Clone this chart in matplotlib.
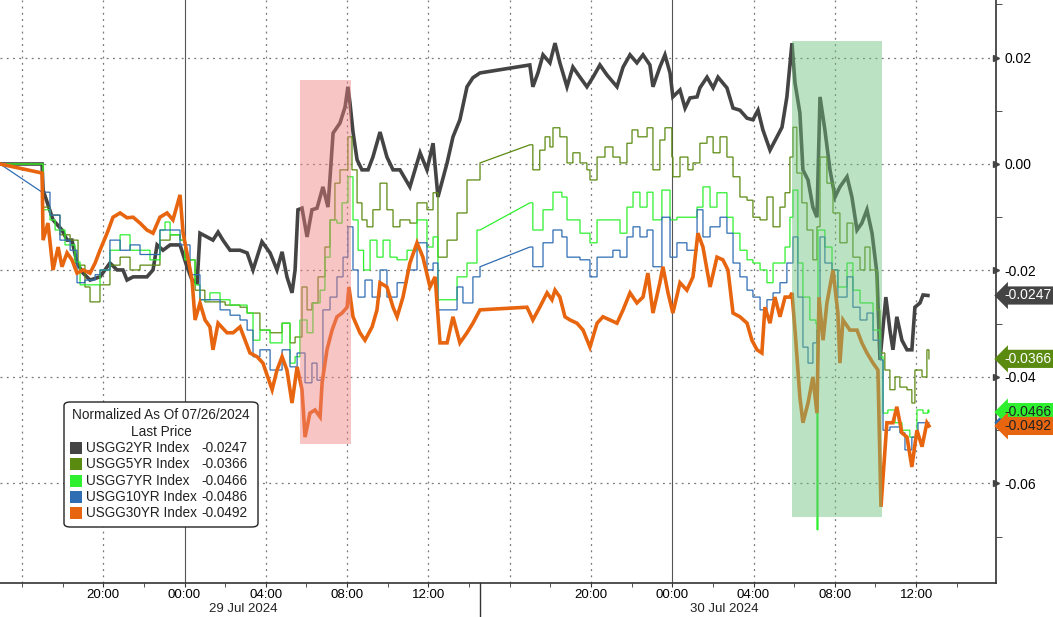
import matplotlib
matplotlib.use("Agg")
import matplotlib.pyplot as plt
import matplotlib.patches as mpatches
import matplotlib.transforms as mtransforms
from matplotlib.lines import Line2D

plt.rcParams['font.family'] = ['Liberation Sans', 'DejaVu Sans']

# time = hours since 29 Jul 2024 00:00, values = normalized change since 07/26/2024
t2 = [-9.08, -7.01, -6.96, -6.47, -6.03, -5.78, -5.54, -5.29, -4.99, -4.65, -4.16, -3.67, -3.32,
      -3.03, -2.83, -2.53, -1.85, -1.55, -1.35, -1.06, -0.71, -0.22, 0.12, 0.37, 0.62, 0.76, 1.11,
      1.40, 1.65, 1.89, 2.24, 2.73, 3.08, 3.37, 3.81, 4.21, 4.55, 4.80, 5.04, 5.29, 5.44, 5.58,
      5.78, 6.03, 6.27, 6.52, 6.81, 7.06, 7.31, 7.65, 7.90, 8.04, 8.14, 8.29, 8.49, 8.73, 9.03,
      9.27, 9.62, 9.96, 10.26, 10.60, 11.09, 11.59, 11.93, 12.23, 12.47, 12.92, 13.21, 13.55,
      13.90, 14.19, 14.54, 16.99, 17.14, 17.39, 17.64, 17.98, 18.23, 18.47, 18.82, 19.11, 19.46,
      19.80, 20.10, 20.44, 20.79, 21.28, 21.58, 21.92, 22.26, 22.56, 22.90, 23.05, 23.39, 23.64,
      23.89, 24.03, 24.38, 24.63, 24.87, 25.22, 25.36, 25.71, 26.01, 26.25, 26.69, 26.99, 27.33,
      27.68, 27.97, 28.22, 28.46, 28.81, 29.15, 29.40, 29.64, 29.89, 30.04, 30.28, 30.43, 30.68,
      30.92, 31.12, 31.27, 31.51, 31.76, 32.01, 32.25, 32.60, 32.84, 33.09, 33.33, 33.58, 33.83,
      34.07, 34.22, 34.51, 34.71, 34.86, 35.05, 35.30, 35.55, 35.79, 35.94, 36.19, 36.34, 36.58]
usgg2 = [0, 0, -0.0049, -0.0105, -0.0124, -0.0143, -0.0143, -0.0186, -0.0205, -0.0218, -0.0212,
         -0.0186, -0.0199, -0.0199, -0.0218, -0.0212, -0.0212, -0.0199, -0.0152, -0.0162, -0.0152,
         -0.0152, -0.0193, -0.0218, -0.0223, -0.0130, -0.0137, -0.0143, -0.0128, -0.0143, -0.0162,
         -0.0162, -0.0167, -0.0199, -0.0146, -0.0167, -0.0199, -0.0165, -0.0212, -0.0242, -0.0199,
         -0.0086, -0.0083, -0.0137, -0.0086, -0.0083, -0.0043, -0.0081, 0.0058, 0.0077, 0.0107,
         0.0145, 0.0115, 0.0060, 0.0008, -0.0011, -0.0011, 0.0013, 0.0060, 0.0013, -0.0011, -0.0011,
         -0.0043, 0.0021, -0.0011, 0.0039, -0.0062, 0.0002, 0.0051, 0.0083, 0.0145, 0.0162, 0.0171,
         0.0186, 0.0145, 0.0171, 0.0205, 0.0190, 0.0227, 0.0190, 0.0145, 0.0182, 0.0163, 0.0145,
         0.0163, 0.0186, 0.0167, 0.0145, 0.0182, 0.0205, 0.0190, 0.0205, 0.0186, 0.0145, 0.0182,
         0.0205, 0.0171, 0.0126, 0.0139, 0.0105, 0.0124, 0.0126, 0.0143, 0.0163, 0.0143, 0.0163,
         0.0143, 0.0105, 0.0101, 0.0086, 0.0083, 0.0101, 0.0064, 0.0026, 0.0051, 0.0069, 0.0126,
         0.0227, 0.0152, 0.0096, -0.0011, -0.0030, -0.0081, -0.0100, 0.0126, 0.0064, -0.0011,
         -0.0062, -0.0043, -0.0024, -0.0062, -0.0124, -0.0111, -0.0086, -0.0130, -0.0205, -0.0368,
         -0.0250, -0.0312, -0.0349, -0.0287, -0.0331, -0.0349, -0.0349, -0.0269, -0.0261, -0.0246,
         -0.0247]

t5 = [-9.08, -7.01, -6.96, -6.62, -6.13, -5.63, -5.24, -4.90, -4.65, -4.16, -3.67, -3.17, -2.68,
      -2.19, -1.70, -1.21, -0.71, -0.22, 0.02, 0.52, 1.00, 2.00, 2.73, 3.08, 3.71, 4.21, 4.80,
      5.19, 5.44, 5.78, 6.03, 6.27, 6.57, 6.91, 7.16, 7.40, 7.65, 8.04, 8.24, 8.49, 8.73, 8.98,
      9.27, 9.62, 9.96, 10.26, 10.60, 11.09, 11.44, 11.93, 12.23, 12.47, 12.92, 13.41, 13.90,
      14.54, 16.99, 17.14, 17.48, 17.74, 17.98, 18.13, 18.47, 18.82, 19.11, 19.46, 19.80, 19.95,
      20.30, 20.69, 21.08, 21.43, 21.77, 22.02, 22.31, 22.76, 23.05, 23.39, 23.64, 23.98, 24.03,
      24.38, 24.77, 25.02, 25.36, 25.71, 26.01, 26.35, 26.69, 26.99, 27.33, 27.68, 27.97, 28.32,
      28.66, 28.96, 29.30, 29.55, 29.79, 29.94, 30.13, 30.38, 30.63, 30.92, 31.12, 31.27, 31.61,
      31.91, 32.25, 32.60, 32.89, 33.24, 33.48, 33.73, 34.07, 34.22, 34.46, 34.71, 34.96, 35.20,
      35.55, 35.79, 35.94, 36.29, 36.53, 36.63]
usgg5 = [0, 0, -0.0081, -0.0096, -0.0133, -0.0143, -0.0190, -0.0231, -0.0259, -0.0227, -0.0190,
         -0.0175, -0.0199, -0.0190, -0.0190, -0.0143, -0.0133, -0.0143, -0.0180, -0.0237, -0.0259,
         -0.0265, -0.0269, -0.0280, -0.0312, -0.0317, -0.0299, -0.0336, -0.0325, -0.0231, -0.0274,
         -0.0261, -0.0212, -0.0156, -0.0105, -0.0036, -0.0011, 0.0051, -0.0011, -0.0073, -0.0105,
         -0.0118, -0.0086, -0.0036, -0.0086, -0.0118, -0.0105, -0.0111, -0.0073, -0.0086, -0.0054,
         -0.0175, -0.0143, -0.0092, -0.0030, 0.0002, 0.0036, -0.0011, 0.0026, 0.0051, 0.0032,
         0.0068, 0.0051, 0.0002, 0.0021, 0.0002, -0.0011, -0.0030, 0.0013, 0.0032, 0.0013, 0.0002,
         0.0039, 0.0064, 0.0051, 0.0068, -0.0011, 0.0045, 0.0068, 0.0013, -0.0024, 0.0013, -0.0011,
         0.0002, 0.0039, 0.0051, 0.0021, 0.0051, 0.0013, -0.0024, -0.0062, -0.0068, -0.0100,
         -0.0105, -0.0062, -0.0118, -0.0081, -0.0054, 0.0013, 0.0069, -0.0017, -0.0073, -0.0124,
         -0.0180, -0.0118, 0.0013, -0.0036, -0.0092, -0.0148, -0.0111, -0.0175, -0.0199, -0.0156,
         -0.0199, -0.0274, -0.0355, -0.0387, -0.0424, -0.0400, -0.0419, -0.0424, -0.0449, -0.0387,
         -0.0400, -0.0349, -0.0366]

t7 = [-9.08, -7.01, -6.96, -6.62, -6.37, -5.88, -5.39, -5.14, -4.65, -4.16, -3.67, -3.17, -2.68,
      -2.19, -1.70, -1.21, -0.96, -0.71, -0.22, 0.02, 0.52, 0.76, 1.25, 1.75, 2.24, 2.73, 3.08,
      3.37, 3.71, 4.21, 4.80, 5.19, 5.44, 5.68, 6.03, 6.32, 6.67, 6.91, 7.16, 7.50, 7.75, 8.04,
      8.29, 8.54, 8.81, 9.13, 9.47, 9.77, 10.11, 10.46, 10.95, 11.44, 11.93, 12.23, 12.47, 13.06,
      13.41, 13.90, 14.39, 14.54, 16.99, 17.14, 17.64, 18.13, 18.57, 18.82, 19.46, 19.95, 20.30,
      21.08, 21.43, 21.77, 22.07, 22.41, 22.76, 23.05, 23.49, 23.89, 24.23, 24.72, 25.22, 25.51,
      25.86, 26.20, 26.69, 26.99, 27.33, 27.68, 27.97, 28.32, 28.66, 28.96, 29.30, 29.55, 29.79,
      29.94, 30.18, 30.43, 30.77, 31.07, 31.12, 31.17, 31.51, 31.86, 32.15, 32.60, 32.89, 33.24,
      33.58, 33.88, 34.22, 34.37, 34.61, 34.96, 35.30, 35.69, 36.04, 36.34, 36.58, 36.63]
usgg7 = [0, 0, -0.0086, -0.0105, -0.0124, -0.0152, -0.0184, -0.0227, -0.0227, -0.0199, -0.0162,
         -0.0133, -0.0162, -0.0162, -0.0180, -0.0124, -0.0109, -0.0133, -0.0143, -0.0180, -0.0227,
         -0.0255, -0.0242, -0.0255, -0.0265, -0.0265, -0.0280, -0.0331, -0.0312, -0.0336, -0.0299,
         -0.0374, -0.0362, -0.0293, -0.0317, -0.0261, -0.0237, -0.0175, -0.0105, -0.0111, -0.0073,
         -0.0024, -0.0105, -0.0162, -0.0199, -0.0143, -0.0175, -0.0143, -0.0175, -0.0180, -0.0162,
         -0.0105, -0.0156, -0.0137, -0.0255, -0.0255, -0.0212, -0.0186, -0.0124, -0.0124, -0.0073,
         -0.0124, -0.0086, -0.0053, -0.0062, -0.0105, -0.0130, -0.0148, -0.0105, -0.0105, -0.0130,
         -0.0081, -0.0053, -0.0081, -0.0053, -0.0105, -0.0049, -0.0105, -0.0100, -0.0100, -0.0081,
         -0.0043, -0.0081, -0.0054, -0.0100, -0.0130, -0.0162, -0.0180, -0.0186, -0.0199, -0.0223,
         -0.0186, -0.0186, -0.0156, -0.0100, -0.0049, -0.0186, -0.0250, -0.0293, -0.0300, -0.0687,
         -0.0124, -0.0156, -0.0199, -0.0231, -0.0186, -0.0237, -0.0261, -0.0261, -0.0312, -0.0362,
         -0.0468, -0.0462, -0.0486, -0.0500, -0.0513, -0.0462, -0.0468, -0.0462, -0.0466]

t10 = [-9.08, -7.01, -6.62, -6.13, -5.63, -5.29, -4.90, -4.40, -4.16, -3.67, -3.17, -2.68, -2.19,
       -1.70, -1.21, -0.71, -0.22, 0.27, 0.76, 1.25, 1.75, 2.24, 2.73, 3.08, 3.37, 3.71, 4.21,
       4.80, 5.19, 5.54, 5.93, 6.27, 6.52, 6.81, 7.16, 7.50, 7.80, 8.04, 8.29, 8.54, 8.88, 9.23,
       9.62, 9.96, 10.46, 10.95, 11.44, 11.93, 12.23, 12.47, 12.92, 13.41, 13.70, 14.19, 14.54,
       16.99, 17.14, 17.64, 18.13, 18.57, 18.82, 19.46, 19.95, 20.30, 21.08, 21.43, 21.77, 22.07,
       22.41, 22.76, 23.05, 23.49, 23.89, 24.23, 24.72, 25.22, 25.51, 25.86, 26.35, 26.69, 26.99,
       27.33, 27.68, 27.97, 28.32, 28.66, 28.96, 29.30, 29.64, 29.94, 30.18, 30.43, 30.68, 30.92,
       31.12, 31.27, 31.51, 31.86, 32.15, 32.60, 32.89, 33.24, 33.58, 33.88, 34.22, 34.37, 34.71,
       35.20, 35.45, 35.79, 36.09, 36.34, 36.63]
usgg10 = [0, -0.0053, -0.0096, -0.0143, -0.0162, -0.0223, -0.0218, -0.0208, -0.0199, -0.0143,
          -0.0162, -0.0152, -0.0170, -0.0170, -0.0124, -0.0124, -0.0152, -0.0208, -0.0255, -0.0255,
          -0.0274, -0.0284, -0.0293, -0.0312, -0.0362, -0.0349, -0.0387, -0.0349, -0.0381, -0.0355,
          -0.0411, -0.0374, -0.0406, -0.0274, -0.0250, -0.0212, -0.0175, -0.0118, -0.0199, -0.0250,
          -0.0218, -0.0250, -0.0199, -0.0250, -0.0223, -0.0199, -0.0148, -0.0199, -0.0186, -0.0274,
          -0.0274, -0.0231, -0.0261, -0.0212, -0.0193, -0.0156, -0.0193, -0.0148, -0.0124, -0.0137,
          -0.0175, -0.0180, -0.0212, -0.0175, -0.0162, -0.0175, -0.0137, -0.0118, -0.0137, -0.0124,
          -0.0193, -0.0100, -0.0175, -0.0148, -0.0162, -0.0086, -0.0137, -0.0118, -0.0100, -0.0130,
          -0.0186, -0.0212, -0.0237, -0.0250, -0.0274, -0.0255, -0.0242, -0.0223, -0.0186, -0.0137,
          -0.0250, -0.0344, -0.0374, -0.0336, -0.0312, -0.0137, -0.0186, -0.0199, -0.0250, -0.0212,
          -0.0269, -0.0293, -0.0280, -0.0331, -0.0368, -0.0500, -0.0494, -0.0505, -0.0537, -0.0513,
          -0.0486, -0.0486, -0.0486]

t30 = [-9.08, -7.01, -6.96, -6.72, -6.47, -6.22, -6.03, -5.78, -5.54, -5.29, -4.99, -4.65, -4.40,
       -4.16, -3.81, -3.52, -3.17, -2.83, -2.53, -2.19, -1.85, -1.55, -1.21, -0.86, -0.57, -0.22,
       -0.07, 0.12, 0.37, 0.52, 0.76, 1.01, 1.25, 1.40, 1.65, 2.09, 2.39, 2.73, 3.22, 3.57, 3.86,
       4.31, 4.55, 4.80, 5.04, 5.29, 5.54, 5.78, 5.93, 6.17, 6.42, 6.67, 6.77, 7.01, 7.26, 7.50,
       7.75, 8.00, 8.09, 8.29, 8.63, 8.88, 9.23, 9.47, 9.62, 9.96, 10.26, 10.46, 10.75, 11.09,
       11.44, 11.73, 12.08, 12.33, 12.57, 12.92, 13.21, 13.55, 13.90, 14.19, 14.54, 16.85, 16.99,
       17.14, 17.48, 17.84, 18.08, 18.23, 18.47, 18.72, 18.97, 19.31, 19.61, 19.95, 20.30, 20.59,
       20.94, 21.28, 21.58, 21.92, 22.26, 22.56, 22.80, 23.05, 23.39, 23.54, 23.79, 24.03, 24.38,
       24.72, 25.02, 25.26, 25.51, 25.86, 26.20, 26.49, 26.74, 26.99, 27.33, 27.68, 27.92, 28.17,
       28.41, 28.56, 28.81, 29.05, 29.30, 29.55, 29.79, 29.89, 30.04, 30.28, 30.43, 30.68, 30.92,
       31.12, 31.22, 31.42, 31.61, 31.91, 32.15, 32.25, 32.40, 32.74, 33.09, 33.33, 33.58, 33.88,
       34.12, 34.27, 34.42, 34.56, 34.86, 35.05, 35.30, 35.55, 35.79, 36.04, 36.29, 36.53, 36.63]
usgg30 = [0, -0.0017, -0.0143, -0.0111, -0.0199, -0.0156, -0.0193, -0.0167, -0.0180, -0.0205,
          -0.0199, -0.0205, -0.0186, -0.0162, -0.0130, -0.0100, -0.0092, -0.0101, -0.0100, -0.0111,
          -0.0124, -0.0130, -0.0100, -0.0092, -0.0105, -0.0058, -0.0130, -0.0167, -0.0218, -0.0293,
          -0.0261, -0.0293, -0.0306, -0.0349, -0.0299, -0.0317, -0.0317, -0.0306, -0.0355, -0.0362,
          -0.0374, -0.0424, -0.0387, -0.0362, -0.0387, -0.0449, -0.0381, -0.0424, -0.0513, -0.0468,
          -0.0462, -0.0475, -0.0411, -0.0349, -0.0312, -0.0287, -0.0280, -0.0269, -0.0231, -0.0287,
          -0.0317, -0.0331, -0.0306, -0.0274, -0.0223, -0.0231, -0.0269, -0.0287, -0.0250, -0.0186,
          -0.0148, -0.0175, -0.0231, -0.0212, -0.0336, -0.0336, -0.0287, -0.0336, -0.0317, -0.0299,
          -0.0274, -0.0269, -0.0280, -0.0293, -0.0269, -0.0242, -0.0255, -0.0237, -0.0250, -0.0287,
          -0.0293, -0.0299, -0.0312, -0.0344, -0.0299, -0.0287, -0.0293, -0.0299, -0.0274, -0.0242,
          -0.0261, -0.0250, -0.0205, -0.0280, -0.0223, -0.0193, -0.0242, -0.0280, -0.0223, -0.0237,
          -0.0212, -0.0130, -0.0156, -0.0231, -0.0175, -0.0180, -0.0199, -0.0280, -0.0287, -0.0299,
          -0.0331, -0.0349, -0.0355, -0.0269, -0.0299, -0.0250, -0.0287, -0.0250, -0.0250, -0.0242,
          -0.0312, -0.0438, -0.0486, -0.0449, -0.0400, -0.0468, -0.0250, -0.0331, -0.0261, -0.0199,
          -0.0280, -0.0374, -0.0293, -0.0312, -0.0312, -0.0336, -0.0355, -0.0374, -0.0387, -0.0644,
          -0.0562, -0.0486, -0.0486, -0.0456, -0.0505, -0.0513, -0.0569, -0.0500, -0.0531, -0.0486,
          -0.0492]

names = ["USGG2YR Index", "USGG5YR Index", "USGG7YR Index", "USGG10YR Index", "USGG30YR Index"]
colors = ["#444444", "#5b8a10", "#2ef02e", "#2f6db3", "#e8650f"]
widths = [2.6, 0.9, 0.9, 0.9, 2.6]
stepped_style = [False, True, True, True, False]
series = [(t2, usgg2), (t5, usgg5), (t7, usgg7), (t10, usgg10), (t30, usgg30)]

# highlighted windows (start hour, end hour, low, high)
red_box = (5.68, 8.19, -0.0526, 0.0158)
green_box = (29.89, 34.32, -0.0663, 0.0231)

hour_ticks = [-4, 0, 4, 8, 12, 20, 24, 28, 32, 36]
hour_labels = ["20:00", "00:00", "04:00", "08:00", "12:00", "20:00", "00:00", "04:00", "08:00", "12:00"]
y_ticks = [0.02, 0.0, -0.02, -0.04, -0.06]


def stepped(t, v, gap=1.5):
    # hold each print until the next one; straight line across data gaps
    xs, ys = [], []
    for i in range(len(t)):
        xs.append(t[i])
        ys.append(v[i])
        if i + 1 < len(t) and t[i + 1] - t[i] < gap:
            xs.append(t[i + 1])
            ys.append(v[i])
    return xs, ys


fig = plt.figure(figsize=(10.53, 6.17), dpi=100)
ax = fig.add_axes([0, 34 / 617, 996 / 1053, 583 / 617])

for (t, v), c, lw, st in zip(series, colors, widths, stepped_style):
    xs, ys = stepped(t, v) if st else (t, v)
    ax.plot(xs, ys, color=c, lw=lw, solid_joinstyle='miter')

for (x0, x1, y0, y1), fc in [(red_box, "#f07f7f"), (green_box, "#6cc07c")]:
    ax.add_patch(mpatches.Rectangle((x0, y0), x1 - x0, y1 - y0, fc=fc, ec='none',
                                    alpha=0.45, zorder=5))

ax.set_xlim(-9.08, 39.93)
ax.set_ylim(-0.0787, 0.0308)

# grid
for h in [-8, -4, 4, 8, 12, 16, 20, 28, 32, 36]:
    ax.axvline(h, color="#777777", lw=0.9, ls=(0, (1.5, 3.5)), zorder=0)
for h in [0, 24]:
    ax.axvline(h, color="#555555", lw=0.8, zorder=0)
for y in y_ticks:
    ax.axhline(y, color="#777777", lw=0.9, ls=(0, (1.5, 3.5)), zorder=0)

ax.set_xticks(hour_ticks)
ax.set_xticklabels(hour_labels)
ax.set_xticks(list(range(-8, 40, 2)), minor=True)
ax.tick_params(axis='x', which='both', length=3, color="#333333", labelsize=9.5, pad=1)

ax.yaxis.tick_right()
ax.set_yticks(y_ticks)
ax.set_yticklabels([f"{y:.2f}" for y in y_ticks])
ax.set_yticks([0.03, 0.01, -0.01, -0.03, -0.05, -0.07], minor=True)
ax.tick_params(axis='y', which='major', length=0, labelsize=10, pad=6)
ax.tick_params(axis='y', which='minor', length=4, color="#333333")
trans_y = mtransforms.blended_transform_factory(ax.transAxes, ax.transData)
ax.plot([1.0] * len(y_ticks), y_ticks, ls='none', marker='>', ms=5, color="#444444",
        transform=trans_y, clip_on=False, zorder=6)

for s in ['top', 'left']:
    ax.spines[s].set_visible(False)
for s in ['right', 'bottom']:
    ax.spines[s].set_color("#333333")
    ax.spines[s].set_linewidth(1.2)

# date labels under the time ticks
trans_x = mtransforms.blended_transform_factory(ax.transData, fig.transFigure)
ax.text(2.88, 1 - 609 / 617, "29 Jul 2024", transform=trans_x, ha='center', va='center',
        fontsize=9.5, color="#222222")
ax.text(26.55, 1 - 609 / 617, "30 Jul 2024", transform=trans_x, ha='center', va='center',
        fontsize=9.5, color="#222222")
fig.add_artist(Line2D([480 / 1053, 480 / 1053], [0, 34 / 617], color="#333333", lw=1.0))

# last value tags on the right axis
tag_text = ["white", "white", "#222222", "white", "#222222"]
for i in [0, 1, 3, 2, 4]:
    v = series[i][1][-1]
    ax.text(1.008, v, f"{v:.4f}", transform=trans_y, ha='left', va='center', fontsize=10,
            color=tag_text[i], zorder=10, clip_on=False,
            bbox=dict(boxstyle="larrow,pad=0.15", fc=colors[i], ec='none'))

# legend box
def fx(px):
    return px / 1053

def fy(py):
    return 1 - py / 617

box = mpatches.FancyBboxPatch((fx(64), fy(527)), fx(258) - fx(64), fy(402) - fy(527),
                              boxstyle="round,pad=0,rounding_size=0.006",
                              transform=fig.transFigure, fc="white", ec="#222222", lw=1.0,
                              zorder=20)
fig.add_artist(box)
fig.text(fx(161), fy(415), "Normalized As Of 07/26/2024", ha='center', va='center',
         fontsize=9.8, color="#222222", zorder=21)
fig.text(fx(161), fy(432), "Last Price", ha='center', va='center', fontsize=9.8,
         color="#222222", zorder=21)
for i, (name, c) in enumerate(zip(names, colors)):
    py = 448 + i * 16.3
    fig.add_artist(mpatches.Rectangle((fx(70), fy(py + 6)), fx(12), 12 / 617,
                                      transform=fig.transFigure, fc=c, ec='none', zorder=21))
    fig.text(fx(86), fy(py), name, ha='left', va='center', fontsize=9.8, color="#222222",
             zorder=21)
    fig.text(fx(201), fy(py), f"{series[i][1][-1]:.4f}", ha='left', va='center', fontsize=9.8,
             color="#222222", zorder=21)

fig.savefig("out.png", dpi=100)
